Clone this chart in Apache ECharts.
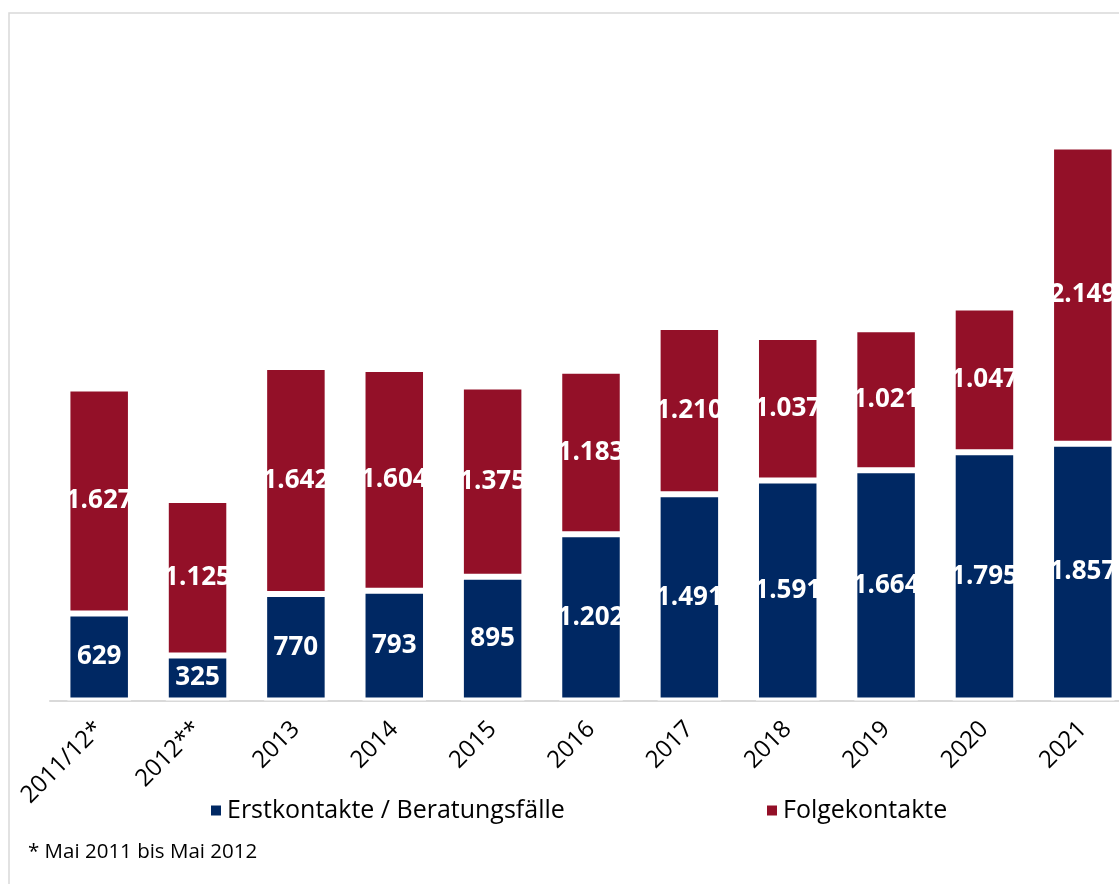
<!DOCTYPE html>
<html>
<head>
<meta charset="utf-8">
<title>Erstkontakte und Folgekontakte</title>
<script src="https://cdn.jsdelivr.net/npm/echarts@6/dist/echarts.min.js"></script>
<style>
  html, body { margin: 0; padding: 0; background: #fff; }
  #chart { width: 1119px; height: 884px; }
</style>
</head>
<body>
<div id="chart"></div>
<script>
// Jahre (x-Achse)
var years = ['2011/12*', '2012**', '2013', '2014', '2015', '2016', '2017', '2018', '2019', '2020', '2021'];
// Erstkontakte / Beratungsfälle
var erstkontakte = [629, 325, 770, 793, 895, 1202, 1491, 1591, 1664, 1795, 1857];
// Folgekontakte
var folgekontakte = [1627, 1125, 1642, 1604, 1375, 1183, 1210, 1037, 1021, 1047, 2149];

var nameErst = 'Erstkontakte / Beratungsfälle';
var nameFolge = 'Folgekontakte';

// Tausenderpunkt wie im Original
function fmt(v) {
  return String(v).replace(/\B(?=(\d{3})+(?!\d))/g, '.');
}

var font = '"Open Sans", "Noto Sans", sans-serif';

var barLabel = {
  show: true,
  position: 'inside',
  color: '#fff',
  fontSize: 26,
  fontWeight: 'bold',
  fontFamily: font,
  formatter: function (p) { return fmt(p.value); }
};

var myChart = echarts.init(document.getElementById('chart'));
myChart.setOption({
  animation: false,
  backgroundColor: '#fff',
  // Plotfläche ragt rechts über den Bildrand hinaus (wie im Original abgeschnitten)
  grid: {
    left: 50,
    top: 9,
    width: 1082,
    height: 691.5,
    outerBoundsMode: 'none'
  },
  xAxis: {
    type: 'category',
    data: years,
    axisLine: { lineStyle: { color: '#d9d9d9', width: 2 } },
    axisTick: { length: 10, lineStyle: { color: '#d9d9d9', width: 1.5 } },
    axisLabel: {
      interval: 0,
      rotate: 45,
      margin: 25,
      fontSize: 24,
      color: '#000',
      fontFamily: font
    }
  },
  yAxis: {
    type: 'value',
    min: 0,
    max: 5000,
    show: false
  },
  legend: [
    {
      data: [nameErst],
      left: 204,
      top: 793,
      icon: 'rect',
      itemWidth: 12,
      itemHeight: 12,
      textStyle: { fontSize: 25, color: '#000', fontFamily: font }
    },
    {
      data: [nameFolge],
      left: 760,
      top: 793,
      icon: 'rect',
      itemWidth: 12,
      itemHeight: 12,
      textStyle: { fontSize: 25, color: '#000', fontFamily: font }
    }
  ],
  graphic: [
    {
      // grauer Rahmen (rechts und unten abgeschnitten)
      type: 'rect',
      silent: true,
      shape: { x: 9, y: 13, width: 1400, height: 1200 },
      style: { fill: 'none', stroke: '#d9d9d9', lineWidth: 1.5 }
    },
    {
      type: 'text',
      left: 28,
      top: 842,
      style: {
        text: '* Mai 2011 bis Mai 2012',
        fontSize: 20.5,
        fill: '#000',
        fontFamily: font
      }
    }
  ],
  series: [
    {
      name: nameErst,
      type: 'bar',
      stack: 'total',
      barWidth: 63.5,
      data: erstkontakte,
      itemStyle: { color: '#002863', borderColor: '#fff', borderWidth: 3 },
      label: barLabel
    },
    {
      name: nameFolge,
      type: 'bar',
      stack: 'total',
      barWidth: 63.5,
      data: folgekontakte,
      itemStyle: { color: '#931028', borderColor: '#fff', borderWidth: 3 },
      label: barLabel
    }
  ]
});
</script>
</body>
</html>
